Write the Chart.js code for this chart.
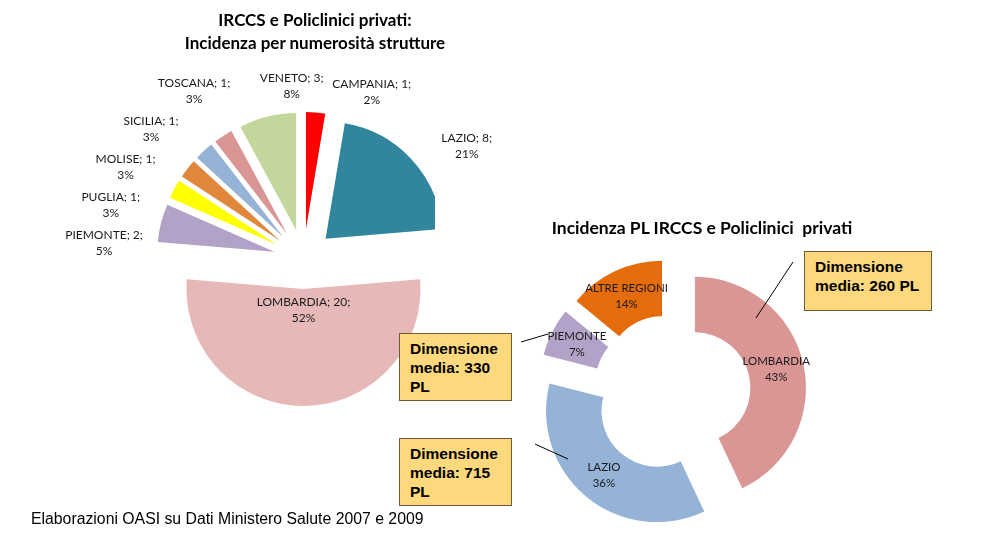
<!DOCTYPE html>
<html>
<head>
<meta charset="utf-8">
<script src="https://cdn.jsdelivr.net/npm/chart.js@4.4.0/dist/chart.umd.min.js"></script>
<style>
  body { margin: 0; background: #fff; }
  #pagina { position: relative; width: 994px; height: 538px; overflow: hidden; font-family: Lato, sans-serif; }
  canvas { position: absolute; }
  #torta { left: 43px; top: 49px; }
  #anello { left: 512px; top: 233px; }
  .titolo { position: absolute; font-weight: bold; color: #000; text-align: center; white-space: pre; }
  .box { position: absolute; box-sizing: border-box; background: #fdd87d; border: 1px solid #6b5d3a;
         font-family: 'Liberation Sans', Arial, sans-serif; font-weight: bold; font-size: 15.5px;
         line-height: 19px; padding: 5px 0 0 10px; color: #000; }
  .nota { position: absolute; left: 31px; top: 510px; font-family: 'Liberation Sans', Arial, sans-serif;
          font-size: 15.8px; color: #000; }
  svg { position: absolute; left: 0; top: 0; }
</style>
</head>
<body>
<div id="pagina">
  <canvas id="torta" width="520" height="420"></canvas>
  <canvas id="anello" width="320" height="320"></canvas>
  <div class="titolo" style="left:115px;top:8px;width:400px;font-size:17px;line-height:23px;">IRCCS e Policlinici privati:
Incidenza per numerosità strutture</div>
  <div class="titolo" style="left:452px;top:217px;width:500px;font-size:17.5px;line-height:22px;">Incidenza PL IRCCS e Policlinici  privati</div>
  <svg id="linee" width="994" height="538"></svg>
  <div class="nota">Elaborazioni OASI su Dati Ministero Salute 2007 e 2009</div>
</div>
<script>
// numero di strutture per regione (grafico a torta)
const regioniStrutture = ['CAMPANIA', 'LAZIO', 'LOMBARDIA', 'PIEMONTE', 'PUGLIA', 'MOLISE', 'SICILIA', 'TOSCANA', 'VENETO'];
const numeroStrutture = [1, 8, 20, 2, 1, 1, 1, 1, 3];
const percStrutture = [2, 21, 52, 5, 3, 3, 3, 3, 8];

// posti letto (grafico ad anello)
const regioniPL = ['LOMBARDIA', 'LAZIO', 'PIEMONTE', 'ALTRE REGIONI'];
const percPL = [43, 36, 7, 14];

// dimensione media in PL per i riquadri
const regioniDimensione = ['LOMBARDIA', 'PIEMONTE', 'LAZIO'];
const dimensioneMedia = [260, 330, 715];

const coloriStrutture = ['#ff0000', '#31859c', '#e6b9b8', '#b3a2c7', '#ffff00', '#e0873c', '#95b3d7', '#d99694', '#c3d69b'];
const coloriPL = ['#d99694', '#95b3d7', '#b3a2c7', '#e46c0a'];

const coloreTesto = '#1a1a1a';

// sposta ogni fetta verso l'esterno lungo la sua bisettrice
const esplodiPlugin = {
  id: 'esplodi',
  afterDatasetUpdate(chart, args, opts) {
    args.meta.data.forEach((arco) => {
      const medio = (arco.startAngle + arco.endAngle) / 2;
      arco.x += Math.cos(medio) * opts.distanza;
      arco.y += Math.sin(medio) * opts.distanza;
    });
  },
};

function disegnaRighe(ctx, font, righe, x, y, allinea) {
  ctx.font = font;
  ctx.fillStyle = coloreTesto;
  ctx.textBaseline = 'middle';
  ctx.textAlign = 'center';
  const larghezza = Math.max(...righe.map((r) => ctx.measureText(r).width));
  let xc = x;
  if (allinea === 'left') xc = x + larghezza / 2;
  if (allinea === 'right') xc = x - larghezza / 2;
  const passo = 16;
  const inizio = y - (passo * (righe.length - 1)) / 2;
  righe.forEach((r, i) => ctx.fillText(r, xc, inizio + i * passo));
}

// etichette della torta, stile "adatta" di Excel
const etichetteTortaPlugin = {
  id: 'etichetteTorta',
  afterDatasetsDraw(chart) {
    const ctx = chart.ctx;
    const font = '12px Lato, sans-serif';
    const area = chart.chartArea;
    const cx = (area.left + area.right) / 2;
    const cy = (area.top + area.bottom) / 2;
    const archi = chart.getDatasetMeta(0).data;
    const sinistra = [];

    archi.forEach((arco, i) => {
      const righe = [regioniStrutture[i] + '; ' + numeroStrutture[i] + ';', percStrutture[i] + '%'];
      const medio = (arco.startAngle + arco.endAngle) / 2;
      const cos = Math.cos(medio);
      const sin = Math.sin(medio);
      if (arco.circumference > Math.PI) {
        const r = arco.outerRadius * 0.18;
        disegnaRighe(ctx, font, righe, arco.x + cos * r, arco.y + sin * r, 'center');
      } else if (cos < -0.3) {
        sinistra.push({ righe, y: cy + sin * 200, r: 200 });
      } else if (cos > 0) {
        const r = arco.outerRadius + 20;
        disegnaRighe(ctx, font, righe, arco.x + cos * r + 15, arco.y + sin * r, 'left');
      } else {
        disegnaRighe(ctx, font, righe, cx + cos * 178, cy + sin * 178, 'left');
      }
    });

    sinistra.sort((a, b) => a.y - b.y);
    let ultimo = -Infinity;
    sinistra.forEach((e) => {
      const y = Math.max(e.y, ultimo + 38);
      ultimo = y;
      const dy = y - cy;
      const dx = Math.sqrt(Math.max(e.r * e.r - dy * dy, 0));
      disegnaRighe(ctx, font, e.righe, cx - dx, y, 'center');
    });
  },
};

const etichetteAnelloPlugin = {
  id: 'etichetteAnello',
  afterDatasetsDraw(chart) {
    const ctx = chart.ctx;
    chart.getDatasetMeta(0).data.forEach((arco, i) => {
      const p = arco.getCenterPoint();
      disegnaRighe(ctx, '11.5px Lato, sans-serif', [regioniPL[i], percPL[i] + '%'], p.x, p.y, 'center');
    });
  },
};

new Chart(document.getElementById('torta'), {
  type: 'pie',
  data: {
    labels: regioniStrutture,
    datasets: [{
      data: numeroStrutture,
      backgroundColor: coloriStrutture,
      borderWidth: 0,
      // l'area del grafico taglia il lato destro della fetta del Lazio
      clip: { left: false, top: false, right: 0, bottom: false },
    }],
  },
  options: {
    responsive: false,
    animation: false,
    events: [],
    radius: 117,
    layout: { padding: { left: 129, right: 128, top: 0, bottom: 0 } },
    plugins: {
      legend: { display: false },
      tooltip: { enabled: false },
      esplodi: { distanza: 30 },
    },
  },
  plugins: [esplodiPlugin, etichetteTortaPlugin],
});

new Chart(document.getElementById('anello'), {
  type: 'doughnut',
  data: {
    labels: regioniPL,
    datasets: [{ data: percPL, backgroundColor: coloriPL, borderWidth: 0 }],
  },
  options: {
    responsive: false,
    animation: false,
    events: [],
    radius: 111,
    cutout: '50%',
    layout: { padding: 0 },
    plugins: {
      legend: { display: false },
      tooltip: { enabled: false },
      esplodi: { distanza: 23.5 },
    },
  },
  plugins: [esplodiPlugin, etichetteAnelloPlugin],
});

// riquadri "Dimensione media" con linea di richiamo
const riquadri = [
  { left: 804, top: 251, w: 128, h: 60, righe: (d) => ['Dimensione', 'media: ' + d + ' PL'], linea: [793, 262, 756, 318] },
  { left: 399, top: 333, w: 113, h: 68, righe: (d) => ['Dimensione', 'media: ' + d, 'PL'], linea: [521, 342, 548, 334] },
  { left: 399, top: 438, w: 113, h: 68, righe: (d) => ['Dimensione', 'media: ' + d, 'PL'], linea: [535, 444, 568, 459] },
];

const pagina = document.getElementById('pagina');
const svg = document.getElementById('linee');
riquadri.forEach((q, i) => {
  const div = document.createElement('div');
  div.className = 'box';
  div.style.left = q.left + 'px';
  div.style.top = q.top + 'px';
  div.style.width = q.w + 'px';
  div.style.height = q.h + 'px';
  div.innerHTML = q.righe(dimensioneMedia[i]).join('<br>');
  pagina.appendChild(div);

  const l = document.createElementNS('http://www.w3.org/2000/svg', 'line');
  l.setAttribute('x1', q.linea[0]);
  l.setAttribute('y1', q.linea[1]);
  l.setAttribute('x2', q.linea[2]);
  l.setAttribute('y2', q.linea[3]);
  l.setAttribute('stroke', '#000');
  l.setAttribute('stroke-width', '1');
  svg.appendChild(l);
});
</script>
</body>
</html>
